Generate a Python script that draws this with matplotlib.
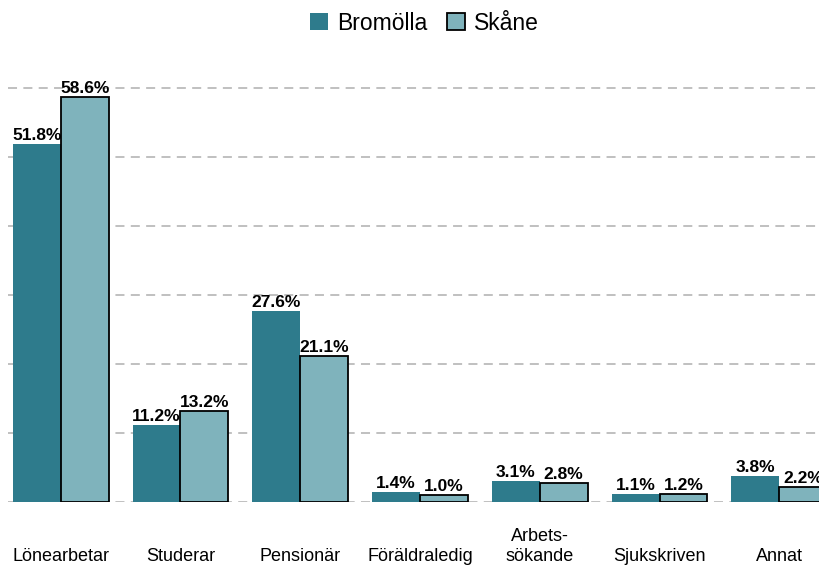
import matplotlib
matplotlib.use("Agg")
import matplotlib.pyplot as plt
import numpy as np

plt.rcParams['font.family'] = ['Liberation Sans', 'DejaVu Sans']

categories = ["Lönearbetar", "Studerar", "Pensionär", "Föräldraledig", "Arbets-\nsökande", "Sjukskriven", "Annat"]
bromolla = [51.8, 11.2, 27.6, 1.4, 3.1, 1.1, 3.8]
skane = [58.6, 13.2, 21.1, 1.0, 2.8, 1.2, 2.2]
series_names = ["Bromölla", "Skåne"]
colors = ["#2E7B8C", "#7FB3BC"]

fig = plt.figure(figsize=(8.2, 5.66), dpi=100)
ax = fig.add_axes([8/820, (566-502)/566, 1 - 8/820, (502-74)/566])

x = np.arange(len(categories))
w = 0.4
b1 = ax.bar(x - w/2, bromolla, w, color=colors[0], edgecolor=colors[0], linewidth=0, label=series_names[0], zorder=3)
b2 = ax.bar(x + w/2, skane, w, color=colors[1], edgecolor="black", linewidth=1.3, label=series_names[1], zorder=3)

for bars, vals in [(b1, bromolla), (b2, skane)]:
    for r, v in zip(bars, vals):
        ax.text(r.get_x() + r.get_width()/2, v + 0.15, f"{v:.1f}%", ha="center", va="bottom",
                fontsize=12.5, fontweight="bold", zorder=4)

ax.set_xlim(-0.44, 6.34)
ax.set_ylim(0, 62)
ax.set_yticks([0, 10, 20, 30, 40, 50, 60])
ax.yaxis.grid(True, color="#bbbbbb", linestyle=(0, (5, 3.5)), linewidth=1.3, zorder=0)
ax.tick_params(axis="y", left=False, labelleft=False)
for s in ax.spines.values():
    s.set_visible(False)

ax.set_xticks(x)
ax.set_xticklabels(categories, fontsize=13, linespacing=1.25)
ax.tick_params(axis="x", length=0, pad=45.5)
for lab in ax.get_xticklabels():
    lab.set_verticalalignment("bottom")

leg = fig.legend(loc="upper center", bbox_to_anchor=(0.518, 1.016), ncol=2, frameon=False,
                 fontsize=16.5, handlelength=0.75, handleheight=0.75, columnspacing=0.87, handletextpad=0.42)

fig.savefig("out.png", dpi=100)
